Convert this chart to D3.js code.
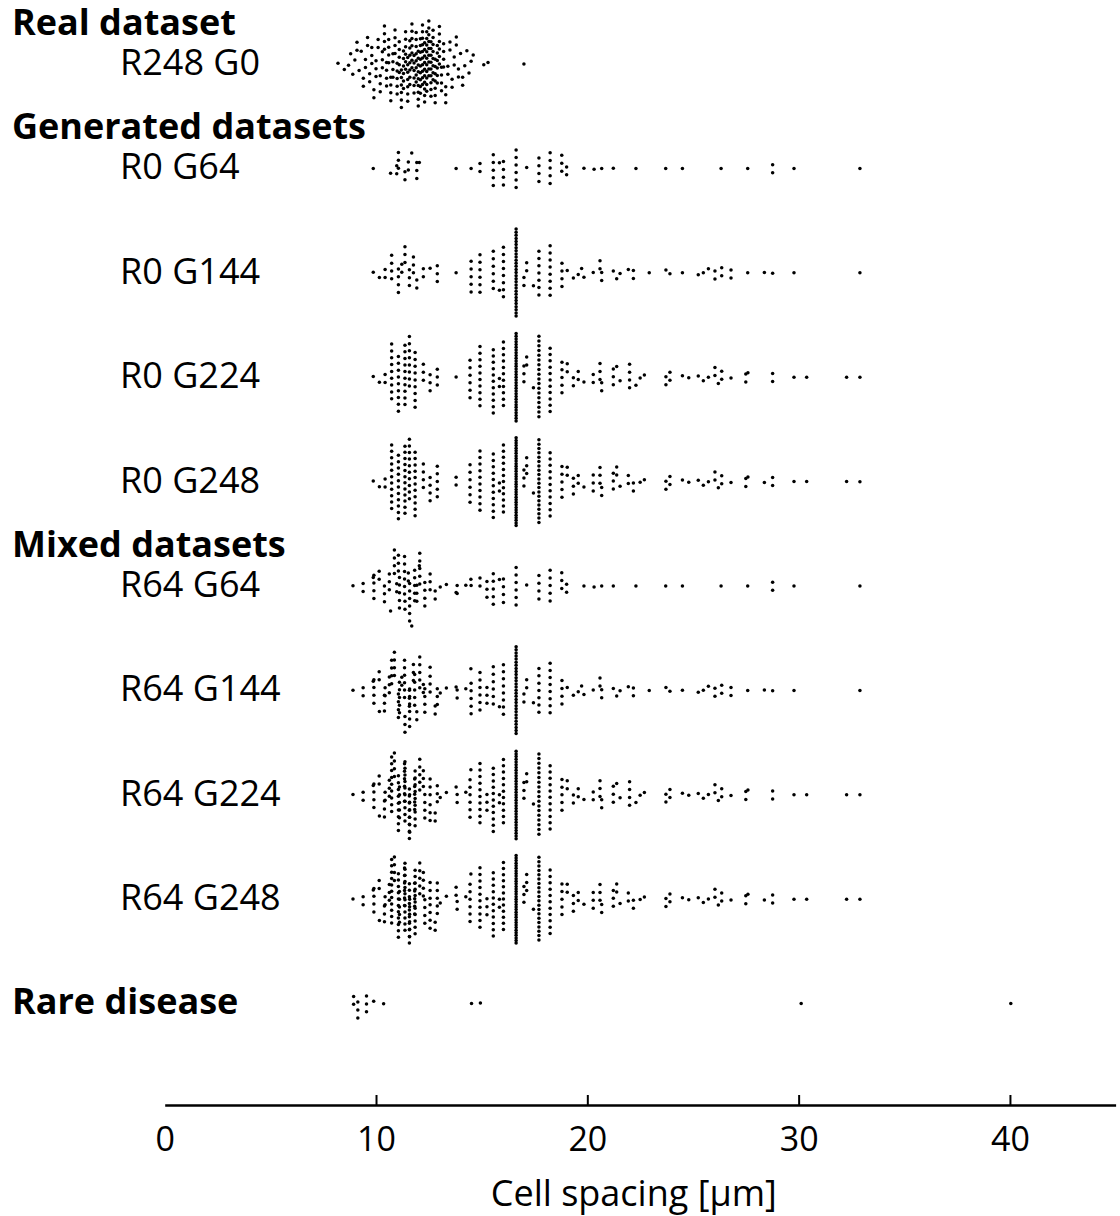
<!DOCTYPE html>
<html>
<head>
<meta charset="utf-8">
<style>
  body { margin: 0; background: #fff; }
  svg text { font-family: "Open Sans", sans-serif; fill: #000; }
</style>
</head>
<body>
<div id="chart"></div>
<script src="https://d3js.org/d3.v7.min.js"></script>
<script>
// rows, top to bottom
var rowNames = ["R248 G0", "R0 G64", "R0 G144", "R0 G224", "R0 G248",
                "R64 G64", "R64 G144", "R64 G224", "R64 G248", "Rare disease"];
var headers = [["Real dataset", "R248 G0"], ["Generated datasets", "R0 G64"], ["Mixed datasets", "R64 G64"]];
var tickVals = [0, 10, 20, 30, 40];

// each entry: [cell spacing (um), number of cells at that value]
var real248 = [[8.2,1],[8.5,1],
  [8.7,1],[8.8,1],[8.9,1],[9.0,1],[9.1,2],[9.2,1],[9.3,1],[9.4,2],[9.5,2],[9.6,2],[9.7,2],[9.8,3],[9.9,2],[10.0,3],[10.1,2],[10.2,3],
  [10.3,3],[10.4,4],[10.5,4],[10.6,4],[10.7,4],[10.8,4],[10.9,4],[11.0,5],
  [11.1,5],[11.2,6],[11.3,6],[11.4,6],[11.5,7],[11.6,7],[11.7,7],[11.8,6],
  [11.9,8],[12.0,9],[12.1,9],[12.2,10],[12.3,10],[12.4,10],[12.5,9],[12.6,9],[12.7,8],[12.8,7],[12.9,6],[13.0,6],
  [13.1,4],[13.2,4],[13.3,3],[13.4,2],[13.5,2],[13.6,2],[13.7,2],[13.8,2],[13.9,2],[14.0,1],[14.1,2],[14.2,1],[14.3,1],[14.4,1],[14.5,1],[14.6,1],
  [15.1,1],[15.3,1],[17.0,1]];

var real64 = [[8.91,1],[9.39,2],[9.9,4],[10.15,2],[10.4,3],[10.63,3],[10.87,4],[11.11,5],[11.35,6],[11.59,6],
  [11.83,5],[12.07,5],[12.31,4],[12.56,3],[12.8,2],[13.04,1],[13.33,1],[13.84,2],[14.25,1],[14.49,1],[15.25,3]];

var gen64 = [[9.87,1],[10.69,1],[10.98,2],[11.06,3],[11.37,2],[11.53,2],[11.69,1],[11.93,3],[12.05,1],
  [13.79,1],[14.5,1],[14.92,2],[15.55,5],[15.84,1],[16.03,4],[16.63,6],[17.13,1],[17.71,4],[18.24,5],[18.79,3],[19.02,2],
  [19.84,1],[20.32,1],[20.68,1],[21.23,1],[22.3,1],[23.71,1],[24.5,1],[26.33,1],[27.59,1],[28.77,2],[29.78,1],[32.9,1]];

var gen144 = [[9.87,1],[10.16,1],[10.43,2],[10.74,4],[11.06,4],[11.22,2],[11.37,3],[11.58,3],[11.77,3],[11.93,2],[12.24,2],[12.56,1],[12.9,3],
  [13.79,1],[14.5,5],[14.92,6],[15.55,6],[15.84,1],[16.03,8],[16.63,29],[17.0,2],[17.13,2],[17.45,1],[17.71,7],[18.24,8],
  [18.8,4],[19.05,1],[19.34,1],[19.57,1],[19.73,1],[19.84,1],[20.28,1],[20.6,2],[20.68,2],[21.23,1],[21.39,1],[21.55,1],
  [21.94,1],[22.18,2],[22.93,1],[23.72,1],[23.91,1],[24.5,1],[25.25,1],[25.49,1],[25.73,1],[26.04,2],[26.36,2],[26.8,2],
  [27.59,1],[28.38,1],[28.77,1],[29.78,1],[32.9,1]];

var gen224 = [[9.87,1],[10.16,1],[10.43,2],[10.74,9],[11.06,9],[11.37,10],[11.58,8],[11.85,9],[12.24,3],[12.56,3],[12.9,3],
  [13.79,1],[14.45,6],[14.92,10],[15.55,11],[15.84,2],[16.03,11],[16.63,33],[17.0,3],[17.13,2],[17.45,1],[17.71,18],[18.24,11],
  [18.8,5],[19.05,2],[19.34,2],[19.57,2],[19.84,1],[20.28,2],[20.6,3],[20.68,2],[21.23,3],[21.39,1],[21.55,1],
  [22.0,4],[22.3,1],[22.5,1],[22.7,1],[23.72,2],[23.91,2],[24.5,1],[24.8,1],[25.25,1],[25.49,1],[25.73,1],
  [26.04,2],[26.2,1],[26.36,2],[26.8,1],[27.5,2],[27.6,1],[28.77,2],[29.78,1],[30.38,1],[32.27,1],[32.9,1]];

var gen248 = [[9.87,1],[10.16,1],[10.43,2],[10.74,11],[11.06,11],[11.37,12],[11.58,10],[11.85,11],[12.24,4],[12.56,4],[12.9,5],
  [13.79,2],[14.45,6],[14.92,10],[15.55,11],[15.84,2],[16.03,12],[16.63,35],[17.0,3],[17.13,3],[17.45,1],[17.71,20],[18.24,11],
  [18.8,5],[19.05,2],[19.34,3],[19.57,2],[19.84,1],[20.28,3],[20.6,3],[20.68,2],[21.23,3],[21.39,2],[21.55,1],
  [21.94,2],[22.18,2],[22.5,1],[22.7,1],[23.72,2],[23.91,2],[24.5,1],[24.8,1],[25.25,1],[25.49,1],[25.73,1],
  [26.04,2],[26.2,1],[26.36,2],[26.8,1],[27.5,2],[27.6,1],[28.38,1],[28.77,2],[29.78,1],[30.38,1],[32.27,1],[32.9,1]];

var rare = [[8.94,2],[9.14,3],[9.55,3],[9.89,1],[10.36,1],[14.52,1],[14.94,1],[30.12,1],[40.04,1]];

var rowData = [real248, gen64, gen144, gen224, gen248,
  real64.concat(gen64), real64.concat(gen144), real64.concat(gen224), real64.concat(gen248), rare];

var W = 1120, Hh = 1216;
var svg = d3.select("#chart").append("svg").attr("width", W).attr("height", Hh);

var x = d3.scaleLinear().domain([0, 45]).range([164.7, 1115.6]);
var y = d3.scalePoint().domain(rowNames).range([64, 1003.6]);

// swarm layout: cells with the same value stack in a column,
// column spread grows with local density (like a density swarm chart)
var H = 88, s0 = 8, sE = 9, bw = 0.2;
function swarm(groups) {
  var pts = [];
  groups.forEach(function(g, k) {
    var v = g[0], n = g[1];
    var D = d3.sum(groups, function(h) { return h[1] * Math.exp(-0.5 * Math.pow((v - h[0]) / bw, 2)); });
    var e = n > 1 ? H * Math.tanh(s0 * (n - 1) / H) : 0;
    var E = Math.max(e, H * Math.tanh(sE * Math.max(0, D - 1) / H));
    var phi = (k * 0.618034 + 0.31) % 1;
    var shift = (phi - 0.5) * (E - e);
    for (var i = 0; i < n; i++) {
      var off = n > 1 ? -e / 2 + e * i / (n - 1) : 0;
      pts.push({v: v, dy: off + shift});
    }
  });
  return pts;
}

rowNames.forEach(function(name, r) {
  svg.append("g")
    .selectAll("circle")
    .data(swarm(rowData[r]))
    .enter().append("circle")
      .attr("cx", function(d) { return x(d.v); })
      .attr("cy", function(d) { return y(name) + d.dy; })
      .attr("r", 1.75)
      .attr("fill", "#000");
});

// row labels
svg.append("g").selectAll("text")
  .data(rowNames.slice(0, 9))
  .enter().append("text")
    .attr("x", 120)
    .attr("y", function(d) { return y(d) - 2; })
    .attr("dy", "0.36em")
    .style("font-size", "36px")
    .text(function(d) { return d; });

svg.append("g").selectAll("text")
  .data(headers)
  .enter().append("text")
    .attr("x", 12)
    .attr("y", function(d) { return y(d[1]) - 42; })
    .attr("dy", "0.36em")
    .style("font-size", "36px")
    .style("font-weight", "bold")
    .text(function(d) { return d[0]; });

svg.append("text")
  .attr("x", 12)
  .attr("y", y("Rare disease") - 3)
  .attr("dy", "0.36em")
  .style("font-size", "36px")
  .style("font-weight", "bold")
  .text("Rare disease");

// x axis
var axisY = 1105;
var gx = svg.append("g")
  .attr("transform", "translate(0," + axisY + ")")
  .call(d3.axisBottom(x).tickValues(tickVals).tickSize(-10).tickSizeOuter(0).tickPadding(22));
gx.select(".domain").attr("stroke", "#000").attr("stroke-width", 2.5);
gx.selectAll(".tick line").attr("stroke", "#000").attr("stroke-width", 2)
  .attr("opacity", function(d) { return d === 0 ? 0 : 1; });
gx.selectAll(".tick text")
  .style("font-family", "Open Sans, sans-serif")
  .style("font-size", "34px")
  .attr("fill", "#000");

svg.append("text")
  .attr("x", x(22.2))
  .attr("y", 1193)
  .attr("dy", "0.36em")
  .attr("text-anchor", "middle")
  .style("font-size", "36px")
  .text("Cell spacing [\u00b5m]");
</script>
</body>
</html>
